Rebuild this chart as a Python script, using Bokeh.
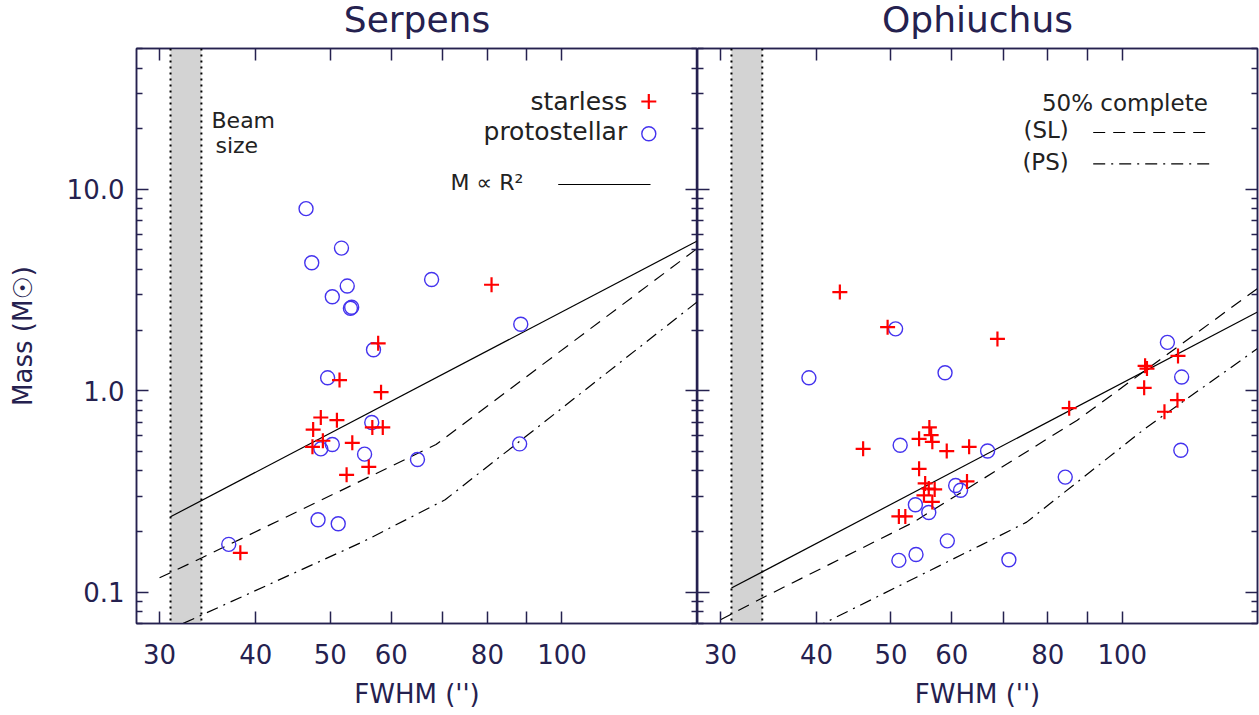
import math
from bokeh.plotting import figure
from bokeh.layouts import row, column
from bokeh.models import (Range1d, LogAxis, FixedTicker, NumeralTickFormatter,
                          CustomJSTickFormatter, Label, BoxAnnotation, Span)
from bokeh.core.properties import value
from bokeh.embed import file_html
from bokeh.resources import INLINE

# ---------------- data ----------------
panel_titles = ["Serpens", "Ophiuchus"]

serp_sl_fwhm = [81.0, 57.7, 51.4, 58.2, 48.6, 51.0, 47.5, 56.7, 58.5, 48.9, 47.4, 53.4, 56.1, 52.5, 38.2]
serp_sl_mass = [3.36, 1.72, 1.13, 0.985, 0.737, 0.715, 0.642, 0.658, 0.658, 0.565, 0.527, 0.552, 0.419, 0.383, 0.157]
serp_ps_fwhm = [46.5, 51.7, 47.3, 67.7, 52.6, 50.3, 53.1, 53.3, 88.4, 56.9, 49.6, 56.6, 48.6, 50.3, 55.4, 64.9, 88.1, 48.2, 51.2, 36.9]
serp_ps_mass = [8.02, 5.11, 4.32, 3.57, 3.31, 2.93, 2.57, 2.60, 2.14, 1.60, 1.16, 0.696, 0.515, 0.541, 0.485, 0.456, 0.545, 0.229, 0.219, 0.173]

oph_sl_fwhm = [42.9, 49.5, 68.8, 107.1, 107.7, 118.2, 106.8, 118.0, 113.5, 85.3, 46.0, 56.1, 56.4, 54.4, 56.6,
               59.1, 63.2, 54.4, 62.8, 55.4, 56.0, 57.0, 55.2, 56.6, 51.2, 52.2]
oph_sl_mass = [3.09, 2.07, 1.81, 1.33, 1.29, 1.49, 1.035, 0.899, 0.787, 0.82, 0.515, 0.658, 0.602, 0.578, 0.558,
               0.502, 0.527, 0.41, 0.355, 0.347, 0.327, 0.324, 0.303, 0.281, 0.238, 0.238]
oph_ps_fwhm = [39.1, 50.7, 58.8, 114.5, 119.5, 119.2, 51.4, 66.8, 84.3, 60.7, 61.6, 53.8, 56.0, 59.2, 53.9, 51.2, 71.2]
oph_ps_mass = [1.16, 2.03, 1.23, 1.74, 1.17, 0.507, 0.537, 0.503, 0.373, 0.339, 0.321, 0.272, 0.249, 0.180, 0.154, 0.144, 0.145]

# M ∝ R^2 reference lines (end points)
serp_r2_fwhm = [31.0, 150.0]
serp_r2_mass = [0.237, 5.55]
oph_r2_fwhm = [31.0, 150.0]
oph_r2_mass = [0.105, 2.46]

# 50% completeness curves
serp_sl50_fwhm = [30.0, 34.0, 68.6, 150.0]
serp_sl50_mass = [0.118, 0.148, 0.541, 5.1]
serp_ps50_fwhm = [30.0, 34.0, 55.1, 70.5, 87.4, 150.0]
serp_ps50_mass = [0.062, 0.077, 0.178, 0.288, 0.548, 2.77]
oph_sl50_fwhm = [30.0, 34.0, 53.3, 87.4, 150.0]
oph_sl50_mass = [0.0731, 0.0937, 0.221, 0.715, 3.22]
oph_ps50_fwhm = [30.0, 65.4, 75.1, 107.1, 150.0]
oph_ps50_mass = [0.039, 0.171, 0.223, 0.65, 1.62]

beam_fwhm = [31.0, 34.0]

x_ticks = [30, 40, 50, 60, 70, 80, 90, 100]
y_ticks = [0.1, 1, 10]
y_minor = [0.07, 0.08, 0.09, 0.2, 0.3, 0.4, 0.5, 0.6, 0.7, 0.8, 0.9,
           2, 3, 4, 5, 6, 7, 8, 9, 20, 30, 40, 50]

# ---------------- style / layout ----------------
X_LO, X_HI = 28.0, 150.0
Y_LO, Y_HI = 0.07, 50.0
TITLE_H = 47          # height of the title strip
TOP, FRAME_H = 48, 575  # page y of frame top, frame height
NAVY = "#25214f"
FONT = "DejaVu Sans"
RED = "#ff0000"
BLUE = "#4433ee"
TEXT_SHIFT = 9   # label baseline correction (px)


def to_data(fx_px, py_page, frame_w):
    """pixel offset from frame left / page y  ->  data coordinates"""
    lx0, lx1 = math.log10(X_LO), math.log10(X_HI)
    ly0, ly1 = math.log10(Y_LO), math.log10(Y_HI)
    fx = fx_px / frame_w
    fy = (TOP + FRAME_H - py_page) / FRAME_H
    return 10 ** (lx0 + fx * (lx1 - lx0)), 10 ** (ly0 + fy * (ly1 - ly0))


x_fmt_code = "const t = Math.round(tick); return (t == 70 || t == 90) ? '' : String(t);"


def style_axis(ax, is_x, labels):
    ax.ticker = FixedTicker(ticks=x_ticks, minor_ticks=[]) if is_x else FixedTicker(ticks=y_ticks, minor_ticks=y_minor)
    ax.axis_line_color = NAVY
    ax.axis_line_width = 1.5
    ax.major_tick_line_color = NAVY
    ax.major_tick_line_width = 1.5
    ax.minor_tick_line_color = NAVY
    ax.minor_tick_line_width = 1.5
    ax.major_tick_out = 0
    ax.minor_tick_out = 0
    ax.major_tick_in = 12
    ax.minor_tick_in = 6
    if labels:
        ax.formatter = CustomJSTickFormatter(code=x_fmt_code) if is_x else NumeralTickFormatter(format="0.0")
        ax.major_label_text_font = FONT
        ax.major_label_text_font_size = "26px"
        ax.major_label_text_color = NAVY
        ax.major_label_standoff = 20 if is_x else 12
        ax.axis_label_text_font = FONT
        ax.axis_label_text_font_size = "26px"
        ax.axis_label_text_font_style = "normal"
        ax.axis_label_text_color = NAVY
    else:
        ax.formatter = CustomJSTickFormatter(code="return '';")
        ax.major_label_text_font_size = "0px"
        ax.major_label_standoff = 0
        ax.axis_label = None


def add_text(p, x, y, txt, size, align="left", color="#222222"):
    p.add_layout(Label(x=x, y=y, text=txt, text_font=FONT, text_font_size=size,
                       text_color=color, text_align=align, text_baseline="alphabetic"))


def make_title(idx, width, mb_left, mb_right):
    t = figure(width=width, height=TITLE_H, x_range=Range1d(0, width), y_range=Range1d(TITLE_H, 0),
               output_backend="svg", toolbar_location=None, min_border=0,
               x_axis_location=None, y_axis_location=None)
    t.outline_line_color = None
    t.xgrid.visible = False
    t.ygrid.visible = False
    cx = mb_left + (width - mb_left - mb_right) / 2
    t.text(x=[cx], y=[19], text=[panel_titles[idx]], text_font=value(FONT), text_font_size="36px",
           text_color=NAVY, text_align="center", text_baseline="middle")
    return t


def make_panel(idx, width, mb_left, mb_right, sl_x, sl_y, ps_x, ps_y, r2_x, r2_y,
               sl50_x, sl50_y, ps50_x, ps50_y):
    frame_w = width - mb_left - mb_right
    p = figure(width=width, height=715 - TITLE_H, x_axis_type="log", y_axis_type="log",
               x_range=Range1d(X_LO, X_HI), y_range=Range1d(Y_LO, Y_HI),
               output_backend="svg", toolbar_location=None,
               min_border_left=mb_left, min_border_right=mb_right,
               min_border_top=TOP - TITLE_H, min_border_bottom=715 - TOP - FRAME_H)
    p.xgrid.visible = False
    p.ygrid.visible = False
    p.outline_line_color = NAVY
    p.outline_line_width = 1.5
    p.background_fill_color = "white"
    p.border_fill_color = "white"

    # axes
    style_axis(p.xaxis[0], True, True)
    p.xaxis[0].axis_label = "FWHM ('')"
    p.xaxis[0].axis_label_standoff = 12
    style_axis(p.yaxis[0], False, idx == 0)
    if idx == 0:
        p.yaxis[0].axis_label = "Mass (M\u2609)"
        p.yaxis[0].axis_label_standoff = 26
    top_ax = LogAxis()
    style_axis(top_ax, True, False)
    p.add_layout(top_ax, "above")
    right_ax = LogAxis()
    style_axis(right_ax, False, False)
    p.add_layout(right_ax, "right")

    # beam
    p.add_layout(BoxAnnotation(left=beam_fwhm[0], right=beam_fwhm[1], fill_color="#d3d3d3",
                               fill_alpha=1.0, line_alpha=0, level="underlay"))
    for b in beam_fwhm:
        p.add_layout(Span(location=b, dimension="height", line_color="black",
                          line_dash="2 4", line_width=2))

    # model lines
    p.line(r2_x, r2_y, line_color="black", line_width=1.2)
    p.line(sl50_x, sl50_y, line_color="black", line_width=1.2, line_dash="12 8")
    p.line(ps50_x, ps50_y, line_color="black", line_width=1.2, line_dash="12 6 2 6")

    # data
    p.scatter(ps_x, ps_y, marker="circle", size=14, fill_color=None, line_color=BLUE, line_width=1.4)
    p.scatter(sl_x, sl_y, marker="cross", size=15, line_color=RED, line_width=2.2)

    if idx == 0:
        # beam size text
        for txt, dx, by in (("Beam", 211 - 136, 129), ("size", 215 - 136, 154)):
            bx, byy = to_data(dx, by - TEXT_SHIFT, frame_w)
            add_text(p, bx, byy, txt, "22px")
        for txt, by in (("starless", 110), ("protostellar", 140)):
            lx, ly = to_data(626.7 - 136, by - TEXT_SHIFT, frame_w)
            add_text(p, lx, ly, txt, "25px", align="right")
        mx, my = to_data(648.3 - 136, 101, frame_w)
        p.scatter([mx], [my], marker="cross", size=15, line_color=RED, line_width=2.2)
        mx, my = to_data(648.3 - 136, 133.3, frame_w)
        p.scatter([mx], [my], marker="circle", size=14, fill_color=None, line_color=BLUE, line_width=1.4)
        lx, ly = to_data(450 - 136, 190.7 - TEXT_SHIFT, frame_w)
        add_text(p, lx, ly, "M  \u221d  R\u00b2", "22px")
        ax0, ay0 = to_data(557.7 - 136, 184, frame_w)
        ax1, _ = to_data(650 - 136, 184, frame_w)
        p.line([ax0, ax1], [ay0, ay0], line_color="black", line_width=1.2)
    else:
        off = 697
        for txt, ex, by in (("50% complete", 1207.3, 111), ("(SL)", 1068.3, 138.3), ("(PS)", 1068.3, 170)):
            lx, ly = to_data(ex - off, by - TEXT_SHIFT, frame_w)
            add_text(p, lx, ly, txt, "23px", align="right")
        for py, dash in ((132, "12 8"), (163.3, "12 6 2 6")):
            ax0, ay0 = to_data(1092.7 - off, py, frame_w)
            ax1, _ = to_data(1210 - off, py, frame_w)
            p.line([ax0, ax1], [ay0, ay0], line_color="black", line_width=1.2, line_dash=dash)
    return p


t1 = make_title(0, 697, 136, 0)
t2 = make_title(1, 562, 0, 2)
p1 = make_panel(0, 697, 136, 0, serp_sl_fwhm, serp_sl_mass, serp_ps_fwhm, serp_ps_mass,
                serp_r2_fwhm, serp_r2_mass, serp_sl50_fwhm, serp_sl50_mass, serp_ps50_fwhm, serp_ps50_mass)
p2 = make_panel(1, 562, 0, 2, oph_sl_fwhm, oph_sl_mass, oph_ps_fwhm, oph_ps_mass,
                oph_r2_fwhm, oph_r2_mass, oph_sl50_fwhm, oph_sl50_mass, oph_ps50_fwhm, oph_ps50_mass)

layout = column(row(t1, t2, spacing=0), row(p1, p2, spacing=0), spacing=0)
open("out.html", "w").write(file_html(layout, INLINE))
